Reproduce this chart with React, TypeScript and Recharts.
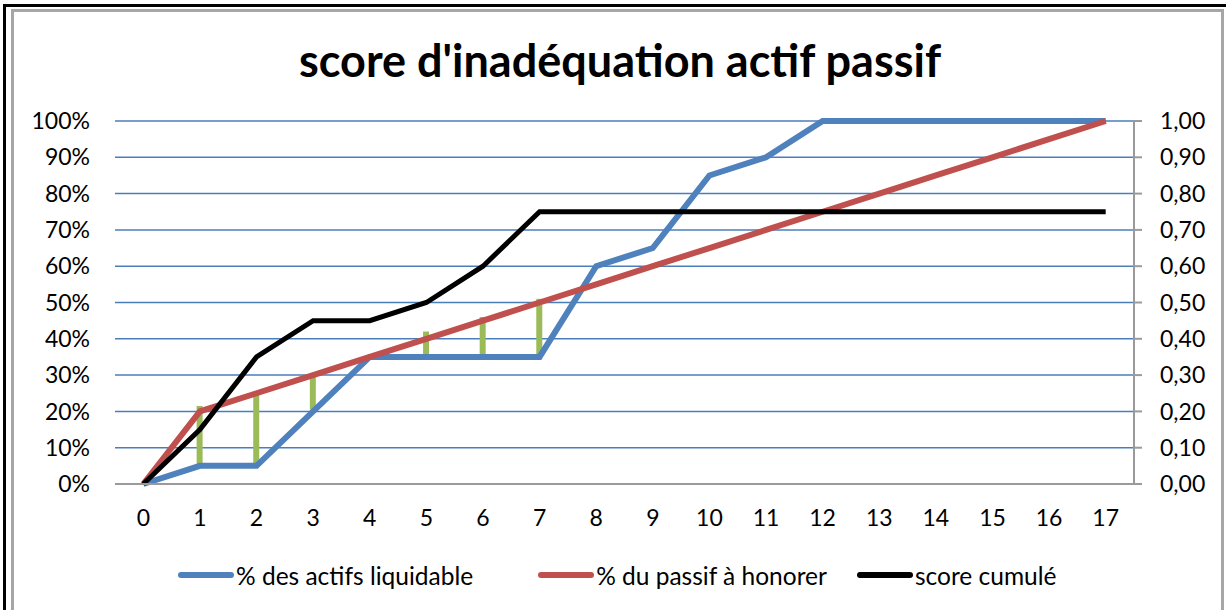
import React from "react";
import {
  Bar,
  CartesianGrid,
  ComposedChart,
  Legend,
  Line,
  XAxis,
  YAxis,
} from "recharts";

// x categories 0..17
const steps = [0, 1, 2, 3, 4, 5, 6, 7, 8, 9, 10, 11, 12, 13, 14, 15, 16, 17];
// % des actifs liquidable
const actifs = [0, 5, 5, 20, 35, 35, 35, 35, 60, 65, 85, 90, 100, 100, 100, 100, 100, 100];
// % du passif à honorer
const passif = [0, 20, 25, 30, 35, 40, 45, 50, 55, 60, 65, 70, 75, 80, 85, 90, 95, 100];
// score cumulé (right axis)
const score = [0, 0.15, 0.35, 0.45, 0.45, 0.5, 0.6, 0.75, 0.75, 0.75, 0.75, 0.75, 0.75, 0.75, 0.75, 0.75, 0.75, 0.75];
// green gap markers (low / high), null where none
const gapLow = [null, 5.5, 5.5, 20.5, null, 35.5, 35.5, 35.5, null, null, null, null, null, null, null, null, null, null];
const gapHigh = [null, 21.5, 25.5, 30.5, null, 42, 46, 51, null, null, null, null, null, null, null, null, null, null];

const pctTicks = [0, 10, 20, 30, 40, 50, 60, 70, 80, 90, 100];
const scoreTicks = [0, 0.1, 0.2, 0.3, 0.4, 0.5, 0.6, 0.7, 0.8, 0.9, 1];

const data = steps.map((s, i) => ({
  x: s,
  actifs: actifs[i],
  passif: passif[i],
  score: score[i],
  gap: gapLow[i] == null ? null : [gapLow[i], gapHigh[i]],
}));

const FONT = "Lato, 'Liberation Sans', sans-serif";

const renderLegend = (props: any) => {
  const items = (props.payload || []).filter((p: any) => p.dataKey !== "gap");
  const gaps = [65, 30, 0];
  return (
    <div
      style={{
        display: "flex",
        alignItems: "center",
        height: 40,
        paddingLeft: 143,
        fontFamily: FONT,
        fontSize: 24.5,
        color: "#000",
      }}
    >
      {items.map((it: any, i: number) => (
        <div
          key={it.value}
          style={{ display: "flex", alignItems: "center", marginRight: gaps[i] }}
        >
          <svg width={56} height={10}>
            <line
              x1={3}
              y1={5}
              x2={53}
              y2={5}
              stroke={it.color}
              strokeWidth={6}
              strokeLinecap="round"
            />
          </svg>
          <span style={{ marginLeft: 2 }}>{it.value}</span>
        </div>
      ))}
    </div>
  );
};

export default function App() {
  return (
    <div
      style={{
        position: "absolute",
        left: 0,
        top: 0,
        width: 1226,
        height: 610,
        background: "#fff",
        overflow: "hidden",
      }}
    >
      <div
        style={{
          position: "absolute",
          left: 3,
          top: 4,
          width: 1240,
          height: 640,
          borderTop: "3px solid #000",
          borderLeft: "3px solid #000",
        }}
      />
      <div
        style={{
          position: "absolute",
          left: 11,
          top: 9,
          width: 1207,
          height: 640,
          border: "3px solid #a6a6a6",
        }}
      />
      <div
        style={{
          position: "absolute",
          left: 0,
          top: 33,
          width: 1240,
          textAlign: "center",
          fontFamily: FONT,
          fontWeight: 700,
          fontSize: 45,
          color: "#000",
        }}
      >
        score d'inadéquation actif passif
      </div>
      <div style={{ position: "absolute", left: 0, top: 0 }}>
        <ComposedChart
          width={1226}
          height={610}
          data={data}
          margin={{ top: 121, right: 12, bottom: 15, left: 35 }}
        >
          <CartesianGrid
            yAxisId="pct"
            vertical={false}
            stroke="#4A7EBB"
            strokeWidth={1.5}
          />
          <XAxis
            dataKey="x"
            axisLine={{ stroke: "#9a9a9a", strokeWidth: 2 }}
            tickLine={false}
            tickMargin={20}
            height={71}
            interval={0}
            tick={{ fill: "#000", fontSize: 23, fontFamily: FONT }}
          />
          <YAxis
            yAxisId="pct"
            domain={[0, 100]}
            ticks={pctTicks}
            tickFormatter={(v: number) => `${v}%`}
            axisLine={false}
            tickLine={false}
            tickMargin={19}
            width={80}
            tick={{ fill: "#000", fontSize: 23, fontFamily: FONT }}
          />
          <YAxis
            yAxisId="score"
            orientation="right"
            domain={[0, 1]}
            ticks={scoreTicks}
            tickFormatter={(v: number) => v.toFixed(2).replace(".", ",")}
            axisLine={{ stroke: "#9a9a9a", strokeWidth: 2 }}
            tickLine={{ stroke: "#9a9a9a", strokeWidth: 2 }}
            tickSize={8}
            tickMargin={18}
            width={80}
            tick={{ fill: "#000", fontSize: 23, fontFamily: FONT }}
          />
          <Legend verticalAlign="bottom" content={renderLegend} />
          <Line
            yAxisId="pct"
            dataKey="actifs"
            name="% des actifs liquidable"
            stroke="#4F81BD"
            strokeWidth={6}
            dot={false}
            activeDot={false}
            isAnimationActive={false}
          />
          <Line
            yAxisId="pct"
            dataKey="passif"
            name="% du passif à honorer"
            stroke="#C0504D"
            strokeWidth={6}
            dot={false}
            activeDot={false}
            isAnimationActive={false}
          />
          <Line
            yAxisId="score"
            dataKey="score"
            name="score cumulé"
            stroke="#000"
            strokeWidth={5}
            dot={false}
            activeDot={false}
            isAnimationActive={false}
          />
          <Bar
            yAxisId="pct"
            dataKey="gap"
            fill="#9BBB59"
            barSize={6}
            legendType="none"
            isAnimationActive={false}
          />
        </ComposedChart>
      </div>
    </div>
  );
}
